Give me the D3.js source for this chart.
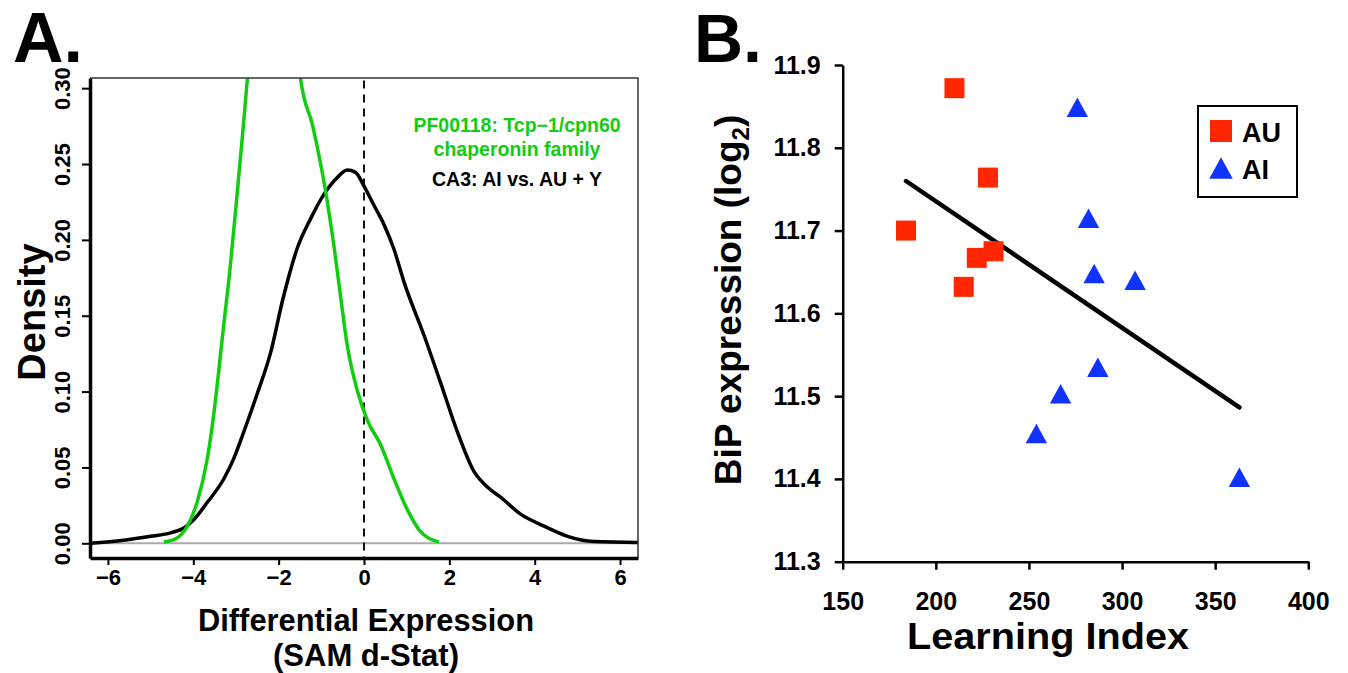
<!DOCTYPE html>
<html lang="en">
<head>
<meta charset="utf-8">
<title>Density and BiP</title>
<script src="https://cdn.jsdelivr.net/npm/d3@7"></script>
<style>
  body { margin: 0; background: #fff; }
  svg text { font-family: "Liberation Sans", Arial, Helvetica, sans-serif; font-weight: bold; }
</style>
</head>
<body>
<script>
// panel A: density curves (d-stat, density)
var allStat = [-6.42, -5.63, -5.0, -4.53, -4.21, -3.98, -3.67, -3.28, -3.05, -2.81, -2.5, -2.19, -1.9, -1.57, -1.25, -0.94, -0.63, -0.39, -0.2, 0.0, 0.23, 0.47, 0.7, 0.94, 1.41, 1.8, 2.18, 2.58, 2.89, 3.2, 3.67, 4.22, 4.77, 5.39, 6.42];
var allDens = [0.0, 0.002, 0.0046, 0.0069, 0.0102, 0.0158, 0.027, 0.0427, 0.056, 0.074, 0.0987, 0.1255, 0.161, 0.194, 0.214, 0.23, 0.241, 0.246, 0.2445, 0.2355, 0.223, 0.21, 0.194, 0.172, 0.1368, 0.1054, 0.0741, 0.0472, 0.0371, 0.0304, 0.0192, 0.0113, 0.0046, 0.0012, 0.0005];
var famStat = [-4.69, -4.38, -4.14, -3.91, -3.67, -3.52, -3.4, -3.28, -3.18, -3.0, -2.85, -2.73, -2.55, -2.2, -1.85, -1.6, -1.49, -1.2, -0.9, -0.7, -0.55, -0.39, -0.16, 0.08, 0.39, 0.7, 1.01, 1.32, 1.76];
var famDens = [0.0008, 0.0035, 0.0113, 0.027, 0.056, 0.085, 0.1144, 0.1457, 0.17, 0.222, 0.268, 0.307, 0.37, 0.42, 0.4, 0.34, 0.307, 0.275, 0.232, 0.195, 0.163, 0.13, 0.101, 0.081, 0.065, 0.0427, 0.0225, 0.0079, 0.0008];
var xTicksA = [-6, -4, -2, 0, 2, 4, 6];
var yTicksA = [0, 0.05, 0.1, 0.15, 0.2, 0.25, 0.3];
var legendA = ["PF00118: Tcp\u22121/cpn60", "chaperonin family", "CA3: AI vs. AU + Y"];

// panel B: learning index vs BiP expression
var auLearning = [210, 228, 184, 222, 231, 215];
var auBip = [11.872, 11.764, 11.700, 11.667, 11.675, 11.632];
var aiLearning = [276, 282, 285, 307, 287, 267, 254, 363];
var aiBip = [11.849, 11.715, 11.648, 11.640, 11.535, 11.503, 11.455, 11.402];
var xTicksB = [150, 200, 250, 300, 350, 400];
var yTicksB = [11.3, 11.4, 11.5, 11.6, 11.7, 11.8, 11.9];

var green = "#11cc11", red = "#ff2600", blue = "#1133ff";

var svg = d3.select("body").append("svg")
    .attr("width", 1348)
    .attr("height", 673);

// ---------- panel A ----------
var xA = d3.scaleLinear().domain([-6.42, 6.42]).range([90, 638]);
var yA = d3.scaleLinear().domain([-0.0097, 0.3067]).range([558, 78]);

svg.append("clipPath").attr("id", "clipA")
  .append("rect")
    .attr("x", xA.range()[0]).attr("y", yA.range()[1])
    .attr("width", xA.range()[1] - xA.range()[0])
    .attr("height", yA.range()[0] - yA.range()[1]);

svg.append("text").attr("x", 13).attr("y", 62)
    .attr("font-size", 70).text("A.");

// zero line
svg.append("line")
    .attr("x1", xA(-6.42)).attr("x2", xA(6.42))
    .attr("y1", yA(0)).attr("y2", yA(0))
    .attr("stroke", "#aaa").attr("stroke-width", 2);

// dashed line at 0
svg.append("line")
    .attr("x1", xA(0)).attr("x2", xA(0))
    .attr("y1", yA(0.305)).attr("y2", yA(-0.0097))
    .attr("stroke", "#111").attr("stroke-width", 2)
    .attr("stroke-dasharray", "8,6");

var lineA = d3.line()
    .x(function(d) { return xA(d[0]); })
    .y(function(d) { return yA(d[1]); })
    .curve(d3.curveMonotoneX);

var gCurves = svg.append("g").attr("clip-path", "url(#clipA)");
gCurves.append("path")
    .attr("d", lineA(d3.zip(allStat, allDens)))
    .attr("fill", "none").attr("stroke", "#000").attr("stroke-width", 3.5);
gCurves.append("path")
    .attr("d", lineA(d3.zip(famStat, famDens)))
    .attr("fill", "none").attr("stroke", green).attr("stroke-width", 3.5);

// box: thin top and right
svg.append("path")
    .attr("d", "M" + xA.range()[0] + "," + yA.range()[1] + "H" + xA.range()[1] + "V" + yA.range()[0])
    .attr("fill", "none").attr("stroke", "#333").attr("stroke-width", 1.5);

var axAx = svg.append("g")
    .attr("transform", "translate(0," + yA.range()[0] + ")")
    .call(d3.axisBottom(xA).tickValues(xTicksA).tickSize(7).tickSizeOuter(0).tickPadding(4));
axAx.select(".domain").attr("stroke-width", 3.5);
axAx.selectAll(".tick line").attr("stroke-width", 2);
axAx.selectAll("text").attr("font-size", 22).attr("fill", "#000");

var axAy = svg.append("g")
    .attr("transform", "translate(" + xA.range()[0] + ",0)")
    .call(d3.axisLeft(yA).tickValues(yTicksA).tickFormat(d3.format(".2f")).tickSize(8).tickSizeOuter(0));
axAy.select(".domain").attr("stroke-width", 3.5);
axAy.selectAll(".tick line").attr("stroke-width", 2);
axAy.selectAll("text")
    .attr("font-size", 22).attr("fill", "#000")
    .attr("x", null).attr("dy", null)
    .attr("text-anchor", "middle")
    .attr("transform", "translate(-20,0) rotate(-90)");

svg.append("text")
    .attr("transform", "translate(45,312) rotate(-90)")
    .attr("text-anchor", "middle").attr("font-size", 38)
    .text("Density");

svg.append("text").attr("x", 366).attr("y", 631)
    .attr("text-anchor", "middle").attr("font-size", 31)
    .attr("textLength", 336).attr("lengthAdjust", "spacingAndGlyphs")
    .text("Differential Expression");
svg.append("text").attr("x", 366).attr("y", 666)
    .attr("text-anchor", "middle").attr("font-size", 31)
    .text("(SAM d-Stat)");

svg.selectAll(".legA")
    .data(legendA)
  .enter().append("text")
    .attr("class", "legA")
    .attr("x", 517)
    .attr("y", function(d, i) { return [132, 156, 186][i]; })
    .attr("text-anchor", "middle").attr("font-size", 19.5)
    .attr("fill", function(d, i) { return i < 2 ? green : "#000"; })
    .text(function(d) { return d; });

// ---------- panel B ----------
var xB = d3.scaleLinear().domain([150, 400]).range([842.7, 1308.3]);
var yB = d3.scaleLinear().domain([11.3, 11.9]).range([561.7, 65]);

svg.append("text").attr("x", 694).attr("y", 62)
    .attr("font-size", 68).text("B.");

var axBx = svg.append("g")
    .attr("transform", "translate(0," + yB.range()[0] + ")")
    .call(d3.axisBottom(xB).tickValues(xTicksB).tickSize(8).tickSizeOuter(0).tickPadding(23));
axBx.select(".domain").attr("stroke-width", 2.5);
axBx.selectAll(".tick line").attr("stroke-width", 2.5);
axBx.selectAll("text").attr("font-size", 25).attr("fill", "#000");

var axBy = svg.append("g")
    .attr("transform", "translate(" + xB.range()[0] + ",0)")
    .call(d3.axisLeft(yB).tickValues(yTicksB).tickFormat(d3.format(".1f")).tickSize(8).tickSizeOuter(0).tickPadding(14));
axBy.select(".domain").attr("stroke-width", 2.5);
axBy.selectAll(".tick line").attr("stroke-width", 2.5);
axBy.selectAll("text").attr("font-size", 25).attr("fill", "#000");

svg.append("text").attr("x", 1048).attr("y", 649)
    .attr("text-anchor", "middle").attr("font-size", 37)
    .attr("textLength", 282).attr("lengthAdjust", "spacingAndGlyphs")
    .text("Learning Index");

var yTitle = svg.append("text")
    .attr("transform", "translate(741,300) rotate(-90)")
    .attr("text-anchor", "middle").attr("font-size", 37);
yTitle.append("tspan").text("BiP expression (log");
yTitle.append("tspan").attr("font-size", 24).attr("dy", 8).text("2");
yTitle.append("tspan").attr("dy", -8).text(")");

// regression line through all points
var allX = auLearning.concat(aiLearning);
var allY = auBip.concat(aiBip);
var mx = d3.mean(allX), my = d3.mean(allY);
var sxy = d3.sum(allX, function(v, i) { return (v - mx) * (allY[i] - my); });
var sxx = d3.sum(allX, function(v) { return (v - mx) * (v - mx); });
var slope = sxy / sxx, icpt = my - slope * mx;
var xr = d3.extent(allX);
svg.append("line")
    .attr("x1", xB(xr[0])).attr("y1", yB(icpt + slope * xr[0]))
    .attr("x2", xB(xr[1])).attr("y2", yB(icpt + slope * xr[1]))
    .attr("stroke", "#000").attr("stroke-width", 4.5).attr("stroke-linecap", "round");

var tri = {
  draw: function(p, size) {
    var s = Math.sqrt(size);
    p.moveTo(0, -s / 2);
    p.lineTo(s * 0.55, s / 2);
    p.lineTo(-s * 0.55, s / 2);
    p.closePath();
  }
};

svg.selectAll(".au")
    .data(d3.zip(auLearning, auBip))
  .enter().append("path")
    .attr("class", "au")
    .attr("d", d3.symbol(d3.symbolSquare, 400))
    .attr("transform", function(d) { return "translate(" + xB(d[0]) + "," + yB(d[1]) + ")"; })
    .attr("fill", red);

svg.selectAll(".ai")
    .data(d3.zip(aiLearning, aiBip))
  .enter().append("path")
    .attr("class", "ai")
    .attr("d", d3.symbol(tri, 380))
    .attr("transform", function(d) { return "translate(" + xB(d[0]) + "," + yB(d[1]) + ")"; })
    .attr("fill", blue);

// legend
var leg = svg.append("g").attr("transform", "translate(1198,106)");
leg.append("rect").attr("width", 99).attr("height", 91)
    .attr("fill", "#fff").attr("stroke", "#000").attr("stroke-width", 2);
leg.append("path").attr("d", d3.symbol(d3.symbolSquare, 484))
    .attr("transform", "translate(23,25)").attr("fill", red);
leg.append("path").attr("d", d3.symbol(tri, 460))
    .attr("transform", "translate(23,62)").attr("fill", blue);
leg.append("text").attr("x", 44).attr("y", 36)
    .attr("font-size", 27).attr("font-weight", "normal").text("AU");
leg.append("text").attr("x", 44).attr("y", 73)
    .attr("font-size", 27).attr("font-weight", "normal").text("AI");
</script>
</body>
</html>
